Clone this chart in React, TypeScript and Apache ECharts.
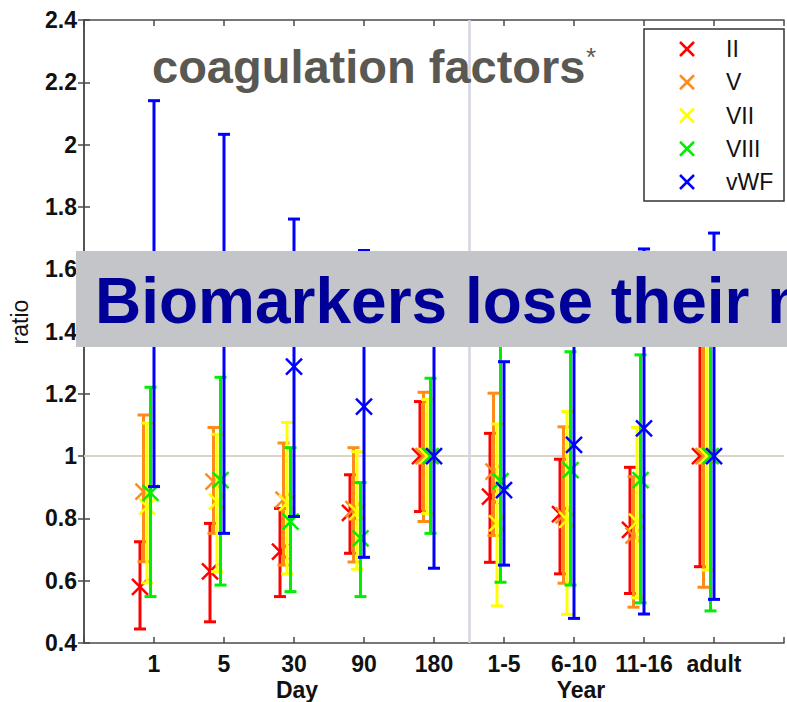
import React, { useEffect, useRef } from 'react';
import * as echarts from 'echarts';

// ---- data ----
const categories = ['1', '5', '30', '90', '180', '1-5', '6-10', '11-16', 'adult'];
const groupLabels = ['Day', 'Year'];
const factorNames = ['II', 'V', 'VII', 'VIII', 'vWF'];

const meanII = [0.58, 0.63, 0.693, 0.818, 1.0, 0.87, 0.814, 0.763, 1.0];
const lowII = [0.445, 0.468, 0.549, 0.688, 0.822, 0.659, 0.622, 0.559, 0.645];
const highII = [0.725, 0.784, 0.832, 0.94, 1.175, 1.073, 0.99, 0.964, 1.45];

const meanV = [0.886, 0.918, 0.86, 0.83, 1.0, 0.95, 0.81, 0.745, 1.0];
const lowV = [0.661, 0.752, 0.65, 0.66, 0.79, 0.745, 0.592, 0.515, 0.579];
const highV = [1.132, 1.092, 1.042, 1.027, 1.205, 1.202, 1.094, 0.934, 1.5];

const meanVII = [0.838, 0.854, 0.85, 0.82, 1.0, 0.784, 0.795, 0.79, 1.0];
const lowVII = [0.593, 0.629, 0.622, 0.637, 0.816, 0.519, 0.492, 0.545, 0.634];
const highVII = [1.106, 1.07, 1.108, 1.014, 1.182, 1.103, 1.143, 1.092, 1.42];

const meanVIII = [0.882, 0.923, 0.79, 0.736, 1.0, 0.92, 0.955, 0.923, 1.0];
const lowVIII = [0.549, 0.586, 0.565, 0.549, 0.752, 0.595, 0.586, 0.529, 0.503];
const highVIII = [1.221, 1.253, 1.027, 0.915, 1.25, 1.42, 1.335, 1.325, 1.55];

const meanVWF = [1.52, 1.45, 1.287, 1.159, 1.0, 0.891, 1.036, 1.089, 1.0];
const lowVWF = [0.902, 0.752, 0.806, 0.675, 0.64, 0.65, 0.479, 0.493, 0.54];
const highVWF = [2.141, 2.033, 1.761, 1.66, 1.45, 1.303, 1.5, 1.665, 1.716];

const refValue = 1;
const titleText = 'coagulation factors';
const bannerText = 'Biomarkers lose their meaning';
const yAxisTitle = 'ratio';

// ---- styling ----
const FONT = "'Liberation Sans', Arial, Helvetica, sans-serif";
const factorColors = ['#ff0000', '#ff8c1a', '#ffff00', '#00ee00', '#0000ff'];
const factorOffsets = [-0.2, -0.15, -0.1, -0.05, 0];
const factorStats = [
  [meanII, lowII, highII],
  [meanV, lowV, highV],
  [meanVII, lowVII, highVII],
  [meanVIII, lowVIII, highVIII],
  [meanVWF, lowVWF, highVWF],
];

export default function App() {
  const ref = useRef<HTMLDivElement>(null);

  useEffect(() => {
    if (!ref.current) return;
    const chart = echarts.init(ref.current, null, { renderer: 'svg' });

    const errorSeries = factorNames.map((name, k) => {
      const [mean, low, high] = factorStats[k];
      const color = factorColors[k];
      return {
        name,
        type: 'custom',
        xAxisIndex: 0,
        yAxisIndex: 0,
        z: 5 + k,
        itemStyle: { color },
        data: categories.map((_, i) => [i + 1 + factorOffsets[k], mean[i], low[i], high[i]]),
        renderItem: (params: any, api: any) => {
          const xv = api.value(0);
          const pM = api.coord([xv, api.value(1)]);
          const pL = api.coord([xv, api.value(2)]);
          const pH = api.coord([xv, api.value(3)]);
          const st = { stroke: color, lineWidth: 3 };
          const mk = { stroke: color, lineWidth: 2.5 };
          const c = 6;
          const m = 8;
          return {
            type: 'group',
            children: [
              { type: 'line', shape: { x1: pL[0], y1: pL[1], x2: pH[0], y2: pH[1] }, style: st },
              { type: 'line', shape: { x1: pL[0] - c, y1: pL[1], x2: pL[0] + c, y2: pL[1] }, style: st },
              { type: 'line', shape: { x1: pH[0] - c, y1: pH[1], x2: pH[0] + c, y2: pH[1] }, style: st },
              { type: 'line', shape: { x1: pM[0] - m, y1: pM[1] - m, x2: pM[0] + m, y2: pM[1] + m }, style: mk },
              { type: 'line', shape: { x1: pM[0] - m, y1: pM[1] + m, x2: pM[0] + m, y2: pM[1] - m }, style: mk },
            ],
          };
        },
      };
    });

    // legend drawn as a framed box (X marker + label per factor)
    const legendLeft = 644;
    const legendTop = 29;
    const rowY0 = 49;
    const rowStep = 33.25;
    const legendChildren: any[] = [
      {
        type: 'rect',
        shape: { x: legendLeft, y: legendTop, width: 140, height: 172 },
        style: { fill: '#ffffff', stroke: '#333333', lineWidth: 1.5 },
      },
    ];
    factorNames.forEach((name, k) => {
      const cy = rowY0 + rowStep * k;
      const cx = 687;
      const s = 7;
      const st = { stroke: factorColors[k], lineWidth: 2.5 };
      legendChildren.push(
        { type: 'line', shape: { x1: cx - s, y1: cy - s, x2: cx + s, y2: cy + s }, style: st },
        { type: 'line', shape: { x1: cx - s, y1: cy + s, x2: cx + s, y2: cy - s }, style: st },
        {
          type: 'text',
          x: 726,
          y: cy,
          style: { text: name, fill: '#111', font: `23px ${FONT}`, align: 'left', verticalAlign: 'middle' },
        }
      );
    });

    const axisColor = '#4a4a4a';
    const option: any = {
      animation: false,
      backgroundColor: '#ffffff',
      grid: { left: 84, top: 20, width: 707, height: 623, containLabel: false },
      xAxis: [
        {
          type: 'value',
          position: 'bottom',
          min: 0,
          max: 10,
          interval: 1,
          splitLine: { show: false },
          axisLine: { lineStyle: { color: axisColor, width: 1.5 } },
          axisTick: { inside: true, length: 6, lineStyle: { color: axisColor, width: 1.5 } },
          axisLabel: {
            margin: 9,
            fontSize: 23,
            fontWeight: 'bold',
            color: '#111',
            fontFamily: FONT,
            formatter: (v: number) => categories[Math.round(v) - 1] ?? '',
          },
        },
        {
          type: 'value',
          position: 'top',
          min: 0,
          max: 10,
          interval: 1,
          splitLine: { show: false },
          axisLine: { lineStyle: { color: axisColor, width: 1.5 } },
          axisTick: { inside: true, length: 6, lineStyle: { color: axisColor, width: 1.5 } },
          axisLabel: { show: false },
        },
      ],
      yAxis: [
        {
          type: 'value',
          position: 'left',
          min: 0.4,
          max: 2.4,
          interval: 0.2,
          splitLine: { show: false },
          axisLine: { show: true, lineStyle: { color: axisColor, width: 1.5 } },
          axisTick: { show: true, inside: true, length: 6, lineStyle: { color: axisColor, width: 1.5 } },
          axisLabel: {
            margin: 7,
            fontSize: 23,
            fontWeight: 'bold',
            color: '#111',
            fontFamily: FONT,
            formatter: (v: number) => String(Math.round(v * 10) / 10),
          },
        },
        {
          type: 'value',
          position: 'right',
          min: 0.4,
          max: 2.4,
          interval: 0.2,
          splitLine: { show: false },
          axisLine: { show: true, lineStyle: { color: axisColor, width: 1.5 } },
          axisTick: { show: true, inside: true, length: 6, lineStyle: { color: axisColor, width: 1.5 } },
          axisLabel: { show: false },
        },
      ],
      series: [
        ...errorSeries,
        {
          name: 'ref',
          type: 'line',
          data: [],
          z: 20,
          silent: true,
          markLine: {
            silent: true,
            symbol: ['none', 'none'],
            label: { show: false },
            data: [
              { yAxis: refValue, lineStyle: { color: '#d9d5c8', width: 2, type: 'solid' } },
              { xAxis: 5.5, lineStyle: { color: '#d4d4e2', width: 2.5, type: 'solid' } },
            ],
          },
        },
      ],
      graphic: [
        {
          type: 'text',
          x: 152,
          y: 66,
          z: 40,
          style: {
            text: titleText,
            fill: '#5a5852',
            font: `bold 47px ${FONT}`,
            align: 'left',
            verticalAlign: 'middle',
          },
        },
        {
          type: 'text',
          x: 586,
          y: 57,
          z: 40,
          style: { text: '*', fill: '#5a5852', font: `26px ${FONT}`, align: 'left', verticalAlign: 'middle' },
        },
        {
          type: 'group',
          z: 45,
          children: legendChildren,
        },
        {
          type: 'text',
          x: 297,
          y: 690,
          z: 40,
          style: { text: groupLabels[0], fill: '#111', font: `bold 23px ${FONT}`, align: 'center', verticalAlign: 'middle' },
        },
        {
          type: 'text',
          x: 581,
          y: 690,
          z: 40,
          style: { text: groupLabels[1], fill: '#111', font: `bold 23px ${FONT}`, align: 'center', verticalAlign: 'middle' },
        },
        {
          type: 'text',
          x: 20,
          y: 322,
          rotation: Math.PI / 2,
          z: 40,
          style: { text: yAxisTitle, fill: '#111', font: `23px ${FONT}`, align: 'center', verticalAlign: 'middle' },
        },
        {
          type: 'rect',
          x: 76,
          y: 251,
          z: 50,
          shape: { x: 0, y: 0, width: 730, height: 96 },
          style: { fill: '#c4c5c9' },
        },
        {
          type: 'text',
          x: 95,
          y: 301,
          z: 51,
          style: { text: bannerText, fill: '#000099', font: `bold 64px ${FONT}`, align: 'left', verticalAlign: 'middle' },
        },
      ],
    };

    chart.setOption(option);
    return () => chart.dispose();
  }, []);

  return (
    <div
      ref={ref}
      style={{ position: 'absolute', left: 0, top: 0, width: 787, height: 702, background: '#fff' }}
    />
  );
}
